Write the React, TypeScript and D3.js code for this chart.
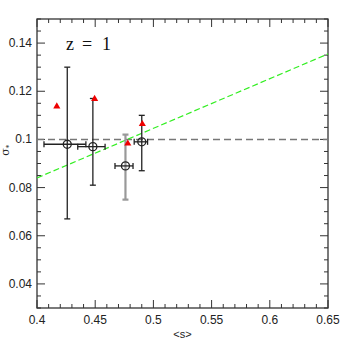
import React from 'react'
import * as d3 from 'd3'

const width = 346
const height = 346
const margin = { top: 19, right: 18, bottom: 38, left: 37 }

// measured points with error bars
const sMean = [0.426, 0.448, 0.476, 0.490]
const sigma = [0.098, 0.097, 0.089, 0.099]
const sLow = [0.406, 0.435, 0.467, 0.4835]
const sHigh = [0.442, 0.4585, 0.4825, 0.495]
const sigLow = [0.067, 0.081, 0.075, 0.087]
const sigHigh = [0.130, 0.117, 0.102, 0.110]
const barColor = ['#222', '#222', '#999', '#222']

// red triangles
const triS = [0.417, 0.4495, 0.478, 0.4905]
const triSigma = [0.1137, 0.1168, 0.0983, 0.1064]

// green fit line and reference level
const fitS = [0.4, 0.65]
const fitSigma = [0.084, 0.1355]
const refLevel = 0.1

const xTicks = [0.4, 0.45, 0.5, 0.55, 0.6, 0.65]
const yTicks = [0.04, 0.06, 0.08, 0.1, 0.12, 0.14]

export default function App() {
  const x = d3.scaleLinear().domain([0.4, 0.65]).range([margin.left, width - margin.right])
  const y = d3.scaleLinear().domain([0.03, 0.15]).range([height - margin.bottom, margin.top])
  const x0 = margin.left, x1 = width - margin.right
  const y0 = height - margin.bottom, y1 = margin.top

  const xMinor = d3.range(0.4, 0.6501, 0.01)
  const yMinor = d3.range(0.03, 0.1501, 0.005)
  const isMajX = (v: number) => xTicks.some(t => Math.abs(t - v) < 1e-6)
  const isMajY = (v: number) => yTicks.some(t => Math.abs(t - v) < 1e-6)

  const line = d3.line<number>().x((d, i) => x(fitS[i])).y(d => y(d))
  const tri = d3.symbol().type(d3.symbolTriangle).size(22)()

  const tickCol = '#333'
  const sans = 'Liberation Sans, Arial, sans-serif'
  return (
    <svg width={width} height={height} style={{ position: 'absolute', left: 0, top: 0 }}>
      <rect width={width} height={height} fill="#fff" />
      {/* ticks */}
      {xMinor.map((v, i) => {
        const L = isMajX(v) ? 8 : 4
        return (
          <g key={'xt' + i} stroke={tickCol} strokeWidth={1}>
            <line x1={x(v)} x2={x(v)} y1={y0} y2={y0 - L} />
            <line x1={x(v)} x2={x(v)} y1={y1} y2={y1 + L} />
          </g>
        )
      })}
      {yMinor.map((v, i) => {
        const L = isMajY(v) ? 8 : 4
        return (
          <g key={'yt' + i} stroke={tickCol} strokeWidth={1}>
            <line x1={x0} x2={x0 + L} y1={y(v)} y2={y(v)} />
            <line x1={x1} x2={x1 - L} y1={y(v)} y2={y(v)} />
          </g>
        )
      })}
      <rect x={x0} y={y1} width={x1 - x0} height={y0 - y1} fill="none" stroke={tickCol} strokeWidth={1.3} />
      {/* tick labels */}
      {xTicks.map(t => (
        <text key={'xl' + t} x={x(t)} y={y0 + 16} textAnchor="middle" fontFamily={sans} fontSize={12} fill="#222">
          {String(t)}
        </text>
      ))}
      {yTicks.map(t => (
        <text key={'yl' + t} x={x0 - 5} y={y(t) + 4} textAnchor="end" fontFamily={sans} fontSize={12} fill="#222">
          {String(t)}
        </text>
      ))}
      <text x={(x0 + x1) / 2} y={y0 + 30} textAnchor="middle" fontFamily={sans} fontSize={11} fill="#222">
        {'<s>'}
      </text>
      <text transform={`translate(9, ${y(0.0955)}) rotate(-90)`} textAnchor="middle" fontFamily="DejaVu Serif, serif" fontSize={11} fill="#222">
        σ<tspan fontSize={7} dy={2}>*</tspan>
      </text>
      <text y={50} fontFamily="Liberation Serif, Times New Roman, serif" fontSize={18} fill="#111">
        <tspan x={66}>z</tspan>
        <tspan x={82}>=</tspan>
        <tspan x={102}>1</tspan>
      </text>
      {/* reference level */}
      <line x1={x0} x2={x1} y1={y(refLevel)} y2={y(refLevel)} stroke="#777" strokeWidth={1.5} strokeDasharray="7,4" />
      {/* fit */}
      <path d={line(fitSigma) || ''} fill="none" stroke="#33ee22" strokeWidth={1.2} strokeDasharray="6,3" />
      {/* error bars */}
      {sMean.map((s, i) => (
        <g key={'p' + i} fill="none">
          <g stroke={barColor[i]} strokeWidth={barColor[i] === '#999' ? 2.2 : 1.3}>
            <line x1={x(s)} x2={x(s)} y1={y(sigLow[i])} y2={y(sigHigh[i])} />
            <line x1={x(s) - 3} x2={x(s) + 3} y1={y(sigLow[i])} y2={y(sigLow[i])} />
            <line x1={x(s) - 3} x2={x(s) + 3} y1={y(sigHigh[i])} y2={y(sigHigh[i])} />
          </g>
          <g stroke="#222" strokeWidth={1.3}>
            <line x1={x(sLow[i])} x2={x(sHigh[i])} y1={y(sigma[i])} y2={y(sigma[i])} />
            <line x1={x(sLow[i])} x2={x(sLow[i])} y1={y(sigma[i]) - 3} y2={y(sigma[i]) + 3} />
            <line x1={x(sHigh[i])} x2={x(sHigh[i])} y1={y(sigma[i]) - 3} y2={y(sigma[i]) + 3} />
            <circle cx={x(s)} cy={y(sigma[i])} r={4} />
          </g>
        </g>
      ))}
      {/* triangles */}
      {triS.map((s, i) => (
        <path key={'t' + i} d={tri || ''} transform={`translate(${x(s)},${y(triSigma[i])})`} fill="#ee0000" />
      ))}
    </svg>
  )
}
